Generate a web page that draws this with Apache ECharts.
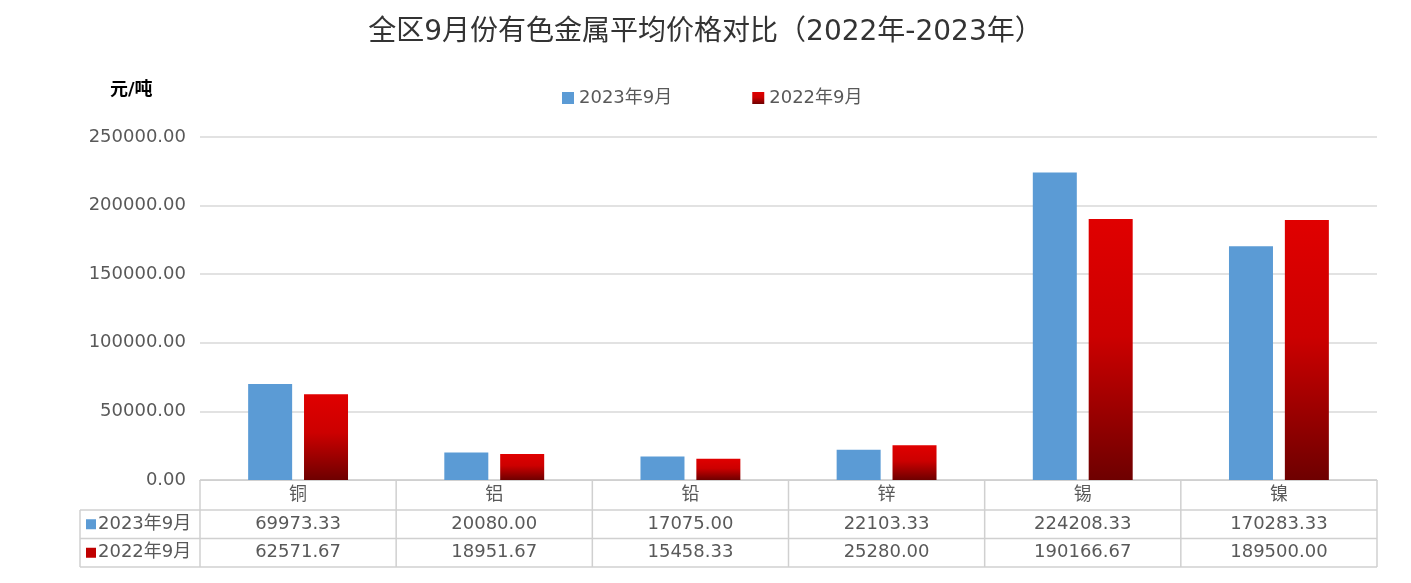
<!DOCTYPE html>
<html><head><meta charset="utf-8">
<script src="https://cdn.jsdelivr.net/npm/echarts@6/dist/echarts.min.js"></script>
<style>html,body{margin:0;padding:0;background:#fff}#c{width:1411px;height:583px}</style>
</head><body><div id="c"></div>
<script>
const categories = ['铜','铝','铅','锌','锡','镍'];
const seriesNames = ['2023年9月','2022年9月'];
const values2023 = [69973.33,20080.00,17075.00,22103.33,224208.33,170283.33];
const values2022 = [62571.67,18951.67,15458.33,25280.00,190166.67,189500.00];

const font = 'DejaVu Sans, Noto Sans CJK SC, sans-serif';
const G = {left:200, right:1377, top:137, bottom:480};
const rowH = 28.5;
const chart = echarts.init(document.getElementById('c'));
const redGrad = new echarts.graphic.LinearGradient(0,0,0,1,[
  {offset:0,color:'#e00000'},{offset:0.45,color:'#cc0000'},{offset:1,color:'#6e0000'}]);
chart.setOption({
  animation:false,
  title:{text:'全区9月份有色金属平均价格对比（2022年-2023年）',left:'center',top:14,
    textStyle:{fontFamily:font,fontSize:28,fontWeight:'normal',color:'#333'}},
  legend:{top:84,left:557,itemGap:80,itemWidth:12,itemHeight:12,icon:'rect',
    textStyle:{fontFamily:font,fontSize:18,color:'#595959'}},
  grid:{left:G.left,right:1411-G.right,top:G.top,bottom:583-G.bottom},
  xAxis:{type:'category',data:categories,axisLabel:{show:false},axisTick:{show:false},
    axisLine:{lineStyle:{color:'#d0d0d0'}}},
  yAxis:{type:'value',min:0,max:250000,interval:50000,
    axisLabel:{formatter:v=>v.toFixed(2),fontFamily:font,fontSize:18,color:'#595959',margin:14},
    splitLine:{lineStyle:{color:'#d9d9d9',width:1.5}},axisLine:{show:false},axisTick:{show:false}},
  series:[
    {name:seriesNames[0],type:'bar',data:values2023,barWidth:44,barGap:'27%',itemStyle:{color:'#5b9bd5'}},
    {name:seriesNames[1],type:'bar',data:values2022,barWidth:44,itemStyle:{color:redGrad}}
  ]
});
// data table
const els=[];
const lc='#d0d0d0';
const bw=(G.right-G.left)/categories.length;
const y0=G.bottom, y1=y0+30, y2=y1+rowH, y3=y2+rowH;
function line(x1,ya,x2,yb){els.push({type:'line',shape:{x1,y1:ya,x2,y2:yb},style:{stroke:lc,lineWidth:1.5}});}
line(G.left,y0,G.right,y0);line(80,y1,G.right,y1);line(80,y2,G.right,y2);line(80,y3,G.right,y3);
line(80,y1,80,y3);
for(let i=0;i<=categories.length;i++){line(G.left+i*bw,y0,G.left+i*bw,y3);}
function txt(t,x,y,align){els.push({type:'text',x,y,style:{text:t,fontFamily:font,fontSize:18,fill:'#595959',align:align||'center',verticalAlign:'middle'}});}
const rows=[values2023,values2022];
categories.forEach((c,i)=>{
  const cx=chart.convertToPixel({xAxisIndex:0},c);
  txt(c,cx,(y0+y1)/2);
  rows.forEach((r,j)=>txt(r[i].toFixed(2),cx,(j?y2+y3:y1+y2)/2));
});
[[seriesNames[0],'#5b9bd5',(y1+y2)/2],[seriesNames[1],'#c00000',(y2+y3)/2]].forEach(([n,col,y])=>{
  els.push({type:'rect',shape:{x:86,y:y-5,width:10,height:10},style:{fill:col}});
  txt(n,98,y,'left');
});
els.push({type:'text',x:110,y:90,style:{text:'元/吨',fontFamily:font,fontSize:18,fontWeight:'bold',fill:'#000',verticalAlign:'middle'}});
chart.setOption({graphic:els});
</script></body></html>
